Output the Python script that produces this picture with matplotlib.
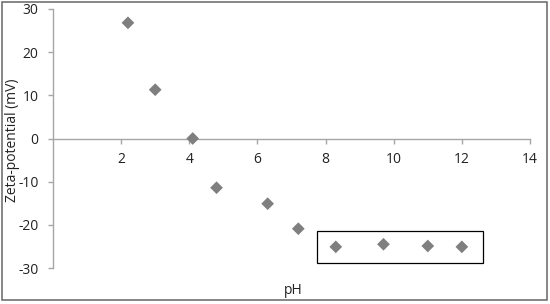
import matplotlib
matplotlib.use("Agg")
import matplotlib.pyplot as plt
from matplotlib.patches import Rectangle

ph = [2.2, 3.0, 4.1, 4.8, 6.3, 7.2, 8.3, 9.7, 11.0, 12.0]
zeta = [26.8, 11.3, 0.0, -11.4, -15.1, -20.9, -25.1, -24.5, -24.9, -25.1]
xticks = [2, 4, 6, 8, 10, 12, 14]
yticks = [-30, -20, -10, 0, 10, 20, 30]

plt.rcParams['font.family'] = ['Open Sans', 'DejaVu Sans']
plt.rcParams['axes.unicode_minus'] = False
axcol = '#a6a6a6'
txtcol = '#222222'

fig = plt.figure(figsize=(5.5, 3.04), dpi=100)
ax = fig.add_axes([53/550, 1-268/304, (530-53)/550, (268-9)/304])
ax.set_xlim(0, 14)
ax.set_ylim(-30, 30)
ax.scatter(ph, zeta, marker='D', s=42, color='#7f7f7f', edgecolors='none', zorder=3, clip_on=False)

for s in ['top', 'right']:
    ax.spines[s].set_visible(False)
ax.spines['bottom'].set_position(('data', 0))
ax.spines['left'].set_position(('data', 0))
for s in ['bottom', 'left']:
    ax.spines[s].set_color(axcol)
    ax.spines[s].set_linewidth(1.0)
ax.set_xticks(xticks)
ax.set_yticks(yticks)
ax.tick_params(axis='x', direction='out', length=3.5, color=axcol, width=1, labelsize=10, pad=6, labelcolor=txtcol)
ax.tick_params(axis='y', direction='out', length=3.5, color=axcol, width=1, labelsize=10, pad=7, labelcolor=txtcol)

ax.add_patch(Rectangle((7.75, -28.8), 12.61-7.75, 7.3, fill=False, edgecolor='black', linewidth=0.9, zorder=2, clip_on=False))

fig.text(293/550, 1-290/304, 'pH', ha='center', va='center', fontsize=10, color=txtcol)
fig.text(12/550, 1-140/304, 'Zeta-potential (mV)', ha='center', va='center', rotation=90, fontsize=10, color=txtcol)

border = Rectangle((1.5/550, 1-300/304), 545.5/550, 298/304, transform=fig.transFigure, fill=False, edgecolor='#666666', linewidth=1.1)
fig.patches.append(border)

fig.savefig('out.png', dpi=100)
